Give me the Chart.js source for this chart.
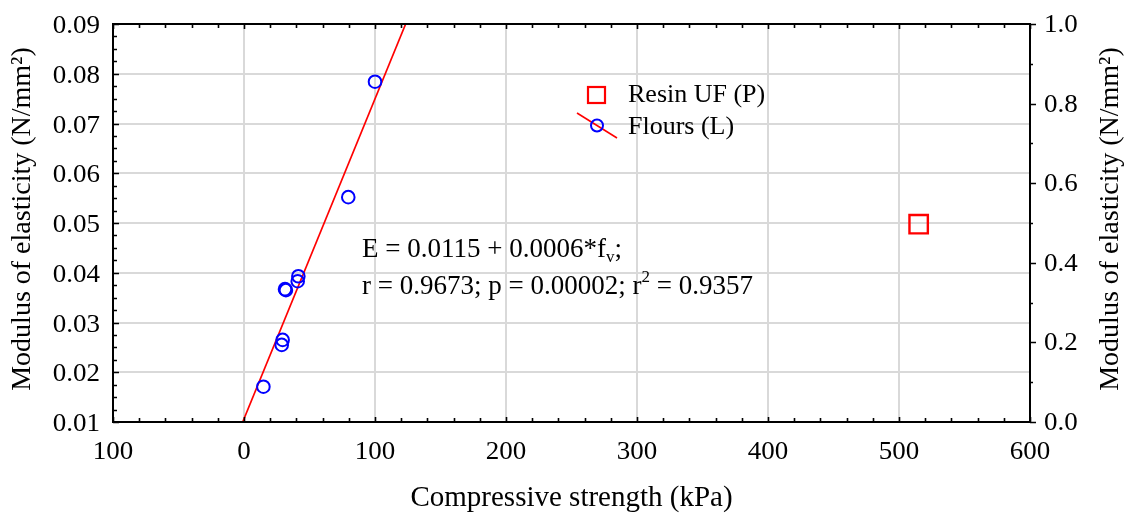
<!DOCTYPE html>
<html><head><meta charset="utf-8">
<script src="https://cdn.jsdelivr.net/npm/chart.js@4.4.1/dist/chart.umd.min.js"></script>
<style>html,body{margin:0;padding:0;background:#fff;}canvas{display:block;}</style>
</head><body>
<canvas id="c" width="1127" height="513"></canvas>
<script>
// ---- data ----
const floursX = [100, 79.6, 41.5, 41.0, 31.3, 32.0, 29.5, 28.8, 14.8];
const floursY = [0.0784, 0.0552, 0.0393, 0.0383, 0.0367, 0.0365, 0.0265, 0.0255, 0.0171];
const resinX = [515];
const resinY = [0.497];
const fitX = [-1, 123.4];
const fitY = [0.01, 0.09];

const xTickValues = [-100, 0, 100, 200, 300, 400, 500, 600];
const xTickLabels = ['100', '0', '100', '200', '300', '400', '500', '600'];
const yTickValues = [0.01, 0.02, 0.03, 0.04, 0.05, 0.06, 0.07, 0.08, 0.09];
const yTickLabels = ['0.01', '0.02', '0.03', '0.04', '0.05', '0.06', '0.07', '0.08', '0.09'];
const y2TickValues = [0, 0.2, 0.4, 0.6, 0.8, 1.0];
const y2TickLabels = ['0.0', '0.2', '0.4', '0.6', '0.8', '1.0'];

const xTitle = 'Compressive strength (kPa)';
const yTitle = 'Modulus of elasticity (N/mm\u00B2)';
const legendLabels = ['Resin UF (P)', 'Flours (L)'];

const SERIF = '"Liberation Serif", "Times New Roman", serif';
const GRID = '#d9d9d9';

function toPts(xs, ys) { return xs.map((x, i) => ({ x: x, y: ys[i] })); }

const decor = {
  id: 'decor',
  afterDraw(chart) {
    const ctx = chart.ctx;
    const a = chart.chartArea;
    const sx = chart.scales.x, sy = chart.scales.y, sy2 = chart.scales.y2;
    ctx.save();
    // frame
    ctx.strokeStyle = '#000';
    ctx.lineWidth = 2;
    ctx.strokeRect(a.left, a.top, a.right - a.left, a.bottom - a.top);
    ctx.lineWidth = 1.6;
    ctx.beginPath();
    // bottom and top ticks (inward), every 20
    for (let v = -100; v <= 600; v += 20) {
      const px = Math.round(sx.getPixelForValue(v)) + 0.5;
      const len = (v % 100 === 0) ? 5 : 4;
      ctx.moveTo(px, a.bottom); ctx.lineTo(px, a.bottom - len);
      ctx.moveTo(px, a.top); ctx.lineTo(px, a.top + len);
    }
    // left ticks (inward), every 0.0025
    for (let i = 0; i <= 32; i++) {
      const v = 0.01 + i * 0.0025;
      const py = Math.round(sy.getPixelForValue(v)) + 0.5;
      const len = (i % 4 === 0) ? 6 : 4;
      ctx.moveTo(a.left, py); ctx.lineTo(a.left + len, py);
    }
    // right ticks (outward), every 0.1
    for (let i = 0; i <= 10; i++) {
      const v = i * 0.1;
      const py = Math.round(sy2.getPixelForValue(v)) + 0.5;
      const len = (i % 2 === 0) ? 6 : 3;
      ctx.moveTo(a.right, py); ctx.lineTo(a.right + len, py);
    }
    ctx.stroke();

    // tick labels (slightly wide lettering as in the reference)
    ctx.fillStyle = '#000';
    ctx.font = '25px ' + SERIF;
    const stretch = 1.08;
    function wide(text, x, y, align) {
      ctx.save();
      ctx.translate(x, y);
      ctx.scale(stretch, 1);
      ctx.textAlign = align;
      ctx.textBaseline = 'alphabetic';
      ctx.fillText(text, 0, 0);
      ctx.restore();
    }
    xTickValues.forEach((v, i) => wide(xTickLabels[i], sx.getPixelForValue(v), 459, 'center'));
    yTickValues.forEach((v, i) => wide(yTickLabels[i], a.left - 13, sy.getPixelForValue(v) + 9, 'right'));
    y2TickValues.forEach((v, i) => wide(y2TickLabels[i], a.right + 14, sy2.getPixelForValue(v) + 8, 'left'));

    // axis titles
    ctx.font = '29px ' + SERIF;
    ctx.textAlign = 'center';
    ctx.textBaseline = 'middle';
    ctx.fillText(xTitle, (a.left + a.right) / 2, 498);
    ctx.save();
    ctx.translate(23, (a.top + a.bottom) / 2 - 4);
    ctx.rotate(-Math.PI / 2);
    ctx.font = '28px ' + SERIF;
    ctx.fillText(yTitle, 0, 0);
    ctx.restore();
    ctx.save();
    ctx.translate(1111, (a.top + a.bottom) / 2 - 4);
    ctx.rotate(-Math.PI / 2);
    ctx.font = '28px ' + SERIF;
    ctx.fillText(yTitle, 0, 0);
    ctx.restore();

    // legend
    ctx.lineWidth = 2.2;
    ctx.strokeStyle = '#ff0000';
    ctx.strokeRect(588, 87, 17, 16);
    ctx.lineWidth = 1.6;
    ctx.beginPath(); ctx.moveTo(577, 113); ctx.lineTo(617, 138); ctx.stroke();
    ctx.strokeStyle = '#0000ff';
    ctx.lineWidth = 2;
    ctx.beginPath(); ctx.arc(597, 125.5, 6, 0, Math.PI * 2); ctx.stroke();
    ctx.font = '26px ' + SERIF;
    ctx.textAlign = 'left';
    ctx.textBaseline = 'alphabetic';
    ctx.fillText(legendLabels[0], 628, 102);
    ctx.fillText(legendLabels[1], 628, 134);

    // regression annotation
    function runs(parts, x, y) {
      let cx = x;
      parts.forEach(p => {
        ctx.font = (p.size || 27) + 'px ' + SERIF;
        ctx.fillText(p.t, cx, y + (p.dy || 0));
        cx += ctx.measureText(p.t).width;
      });
    }
    runs([{ t: 'E = 0.0115 + 0.0006*f' }, { t: 'v', size: 17, dy: 5 }, { t: ';' }], 362, 257);
    runs([{ t: 'r = 0.9673; p = 0.00002; r' }, { t: '2', size: 17, dy: -12 }, { t: ' = 0.9357' }], 362, 294);
    ctx.restore();
  }
};

new Chart(document.getElementById('c'), {
  type: 'scatter',
  data: {
    datasets: [
      {
        label: 'fit',
        data: toPts(fitX, fitY),
        showLine: true,
        borderColor: '#ff0000',
        borderWidth: 1.7,
        pointRadius: 0,
        yAxisID: 'y',
        order: 2
      },
      {
        label: legendLabels[1],
        data: toPts(floursX, floursY),
        pointStyle: 'circle',
        pointRadius: 6.3,
        borderColor: '#0000ff',
        backgroundColor: 'rgba(0,0,0,0)',
        borderWidth: 2,
        yAxisID: 'y',
        order: 1
      },
      {
        label: legendLabels[0],
        data: toPts(resinX, resinY),
        pointStyle: 'rect',
        pointRadius: 13,
        borderColor: '#ff0000',
        backgroundColor: 'rgba(0,0,0,0)',
        borderWidth: 2.4,
        yAxisID: 'y2',
        order: 1
      }
    ]
  },
  options: {
    responsive: false,
    animation: false,
    layout: { padding: { top: 24, left: 0, right: 0, bottom: 0 } },
    plugins: { legend: { display: false }, tooltip: { enabled: false } },
    scales: {
      x: {
        type: 'linear', min: -100, max: 600,
        afterBuildTicks: s => { s.ticks = xTickValues.map(v => ({ value: v })); },
        afterFit: s => { s.height = 91; },
        ticks: { display: false },
        grid: { color: GRID, lineWidth: 2, drawTicks: false },
        border: { display: false }
      },
      y: {
        type: 'linear', position: 'left', min: 0.01, max: 0.09,
        afterBuildTicks: s => { s.ticks = yTickValues.map(v => ({ value: v })); },
        afterFit: s => { s.width = 113; },
        ticks: { display: false },
        grid: { color: GRID, lineWidth: 2, drawTicks: false },
        border: { display: false }
      },
      y2: {
        type: 'linear', position: 'right', min: 0, max: 1,
        afterBuildTicks: s => { s.ticks = y2TickValues.map(v => ({ value: v })); },
        afterFit: s => { s.width = 97; },
        ticks: { display: false },
        grid: { display: false, drawTicks: false },
        border: { display: false }
      }
    }
  },
  plugins: [decor]
});
</script>
</body></html>
